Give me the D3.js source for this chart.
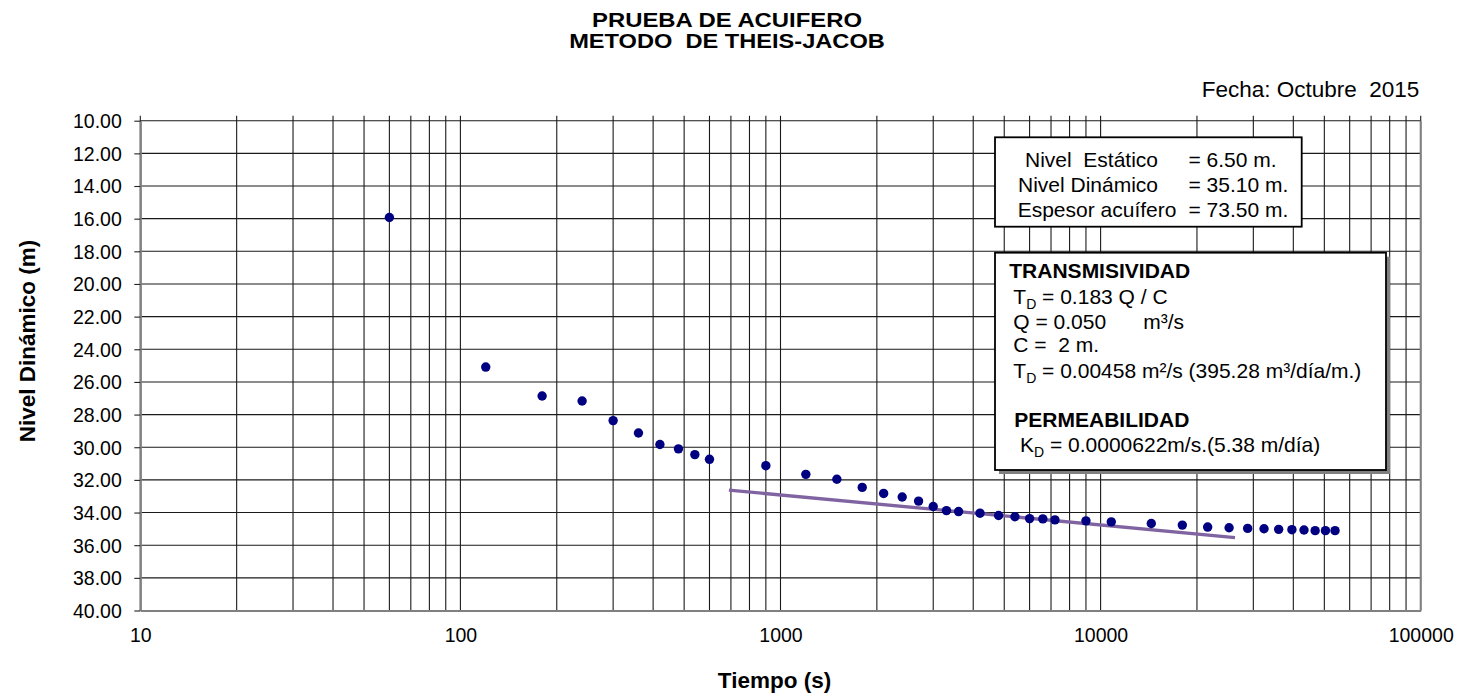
<!DOCTYPE html>
<html>
<head>
<meta charset="utf-8">
<script src="https://cdn.jsdelivr.net/npm/d3@7"></script>
<style>
  html, body { margin: 0; padding: 0; background: #fff; }
  svg { display: block; font-family: "Liberation Sans", Arial, sans-serif; }
  svg text { white-space: pre; }
</style>
</head>
<body>
<svg id="chart" width="1472" height="698"></svg>
<script>
// ---- data ----
const tiempo = [60,120,180,240,300,360,420,480,540,600,900,1200,1500,1800,2100,2400,2700,3000,3300,3600,4200,4800,5400,6000,6600,7200,9000,10800,14400,18000,21600,25200,28800,32400,36000,39600,43200,46800,50400,54000];
const nivel  = [15.93,25.09,26.86,27.17,28.37,29.13,29.83,30.10,30.45,30.74,31.13,31.66,31.96,32.46,32.83,33.05,33.30,33.63,33.88,33.94,34.04,34.18,34.26,34.37,34.39,34.45,34.51,34.57,34.67,34.77,34.89,34.93,34.97,34.99,35.03,35.05,35.07,35.11,35.11,35.11];
const rectaTiempo = [690, 26300];
const rectaNivel  = [32.63, 35.53];
const xTickValues = [10, 100, 1000, 10000, 100000];
const yTickValues = [10,12,14,16,18,20,22,24,26,28,30,32,34,36,38,40];
const titulo = ["PRUEBA DE ACUIFERO", "METODO  DE THEIS-JACOB"];
const fecha = "Fecha: Octubre  2015";
const cuadro1Etiquetas = ["Nivel  Estático", "Nivel Dinámico", "Espesor acuífero"];
const cuadro1Valores = ["= 6.50 m.", "= 35.10 m.", "= 73.50 m."];

// ---- layout ----
const svg = d3.select("#chart");
const L = 140.3, R = 1420.7, T = 120.7, B = 610.5;
const x = d3.scaleLog().domain([10, 100000]).range([L, R]);
const y = d3.scaleLinear().domain([10, 40]).range([T, B]);

// minor grid values for log axis
const xGrid = [];
for (let dec = 10; dec < 100000; dec *= 10) {
  for (let k = 1; k < 10; k++) xGrid.push(dec * k);
}
xGrid.push(100000);

const grid = svg.append("g");
grid.selectAll("line.v").data(xGrid).join("line")
  .attr("x1", d => x(d)).attr("x2", d => x(d))
  .attr("y1", T - 5).attr("y2", B)
  .attr("stroke", "#1a1a1a").attr("stroke-width", 1.1);
grid.selectAll("line.h").data(yTickValues).join("line")
  .attr("x1", L).attr("x2", R)
  .attr("y1", d => y(d)).attr("y2", d => y(d))
  .attr("stroke", "#1a1a1a").attr("stroke-width", 1.1);

// right border
svg.append("line").attr("x1", R).attr("x2", R).attr("y1", T).attr("y2", B)
  .attr("stroke", "#808080").attr("stroke-width", 2);

// y axis
const yAxis = svg.append("g").attr("transform", `translate(${L},0)`)
  .call(d3.axisLeft(y).tickValues(yTickValues).tickSize(6).tickSizeOuter(0)
    .tickFormat(d => d3.format(".2f")(d)));
yAxis.select(".domain").attr("stroke", "#808080").attr("stroke-width", 2.2);
yAxis.selectAll(".tick line").attr("stroke", "#222").attr("stroke-width", 1.1);
yAxis.selectAll(".tick text").attr("font-size", 19.5).attr("fill", "#000")
  .attr("font-family", "Liberation Sans, Arial, sans-serif").attr("x", -18.5).attr("dy", "0.35em");

// x axis
const xAxis = svg.append("g").attr("transform", `translate(0,${B})`)
  .call(d3.axisBottom(x).tickValues(xTickValues).tickSize(0).tickSizeOuter(0)
    .tickFormat(d => String(d)));
xAxis.select(".domain").attr("stroke", "#808080").attr("stroke-width", 2.2);
xAxis.selectAll(".tick text").attr("font-size", 19.5).attr("fill", "#000")
  .attr("font-family", "Liberation Sans, Arial, sans-serif").attr("y", 31).attr("dy", 0);

// fitted line
const recta = rectaTiempo.map((t, i) => [t, rectaNivel[i]]);
svg.append("path").datum(recta)
  .attr("d", d3.line().x(d => x(d[0])).y(d => y(d[1])))
  .attr("fill", "none").attr("stroke", "#8064A2").attr("stroke-width", 3.3);

// points
svg.append("g").selectAll("circle").data(tiempo.map((t, i) => [t, nivel[i]])).join("circle")
  .attr("cx", d => x(d[0])).attr("cy", d => y(d[1])).attr("r", 4.7)
  .attr("fill", "#000080");

// titles
svg.selectAll("text.title").data(titulo).join("text").attr("class", "title")
  .attr("x", 727).attr("y", (d, i) => 26.5 + i * 21.7)
  .attr("text-anchor", "middle").attr("font-weight", "bold").attr("font-size", 20)
  .attr("textLength", (d, i) => i === 0 ? 270 : 315.7).attr("lengthAdjust", "spacingAndGlyphs")
  .text(d => d);

svg.append("text").attr("x", 1419.3).attr("y", 96.7).attr("text-anchor", "end")
  .attr("font-size", 22.5).text(fecha);

// axis titles
svg.append("text").attr("transform", "translate(35,341) rotate(-90)")
  .attr("text-anchor", "middle").attr("font-weight", "bold").attr("font-size", 22.5)
  .text("Nivel Dinámico (m)");
svg.append("text").attr("x", 774.5).attr("y", 688)
  .attr("text-anchor", "middle").attr("font-weight", "bold").attr("font-size", 22.5)
  .text("Tiempo (s)");

// box 1
svg.append("rect").attr("x", 995).attr("y", 137.3).attr("width", 306.7).attr("height", 89.4)
  .attr("fill", "#fff").attr("stroke", "#000").attr("stroke-width", 1.8);
const b1x = [1025, 1018, 1017.7];
svg.selectAll("text.b1l").data(cuadro1Etiquetas).join("text").attr("class", "b1l")
  .attr("x", (d, i) => b1x[i]).attr("y", (d, i) => 166.7 + i * 25)
  .attr("font-size", 21).text(d => d);
svg.selectAll("text.b1v").data(cuadro1Valores).join("text").attr("class", "b1v")
  .attr("x", 1188.5).attr("y", (d, i) => 166.7 + i * 25)
  .attr("font-size", 21).text(d => d);

// box 2 with shadow
svg.append("rect").attr("x", 999).attr("y", 256.7).attr("width", 391).attr("height", 217.3)
  .attr("fill", "#808080");
svg.append("rect").attr("x", 995).attr("y", 252.7).attr("width", 391).attr("height", 217.3)
  .attr("fill", "#fff").attr("stroke", "#000").attr("stroke-width", 1.8);

const b2 = svg.append("g").attr("font-size", 21);
b2.append("text").attr("x", 1009.3).attr("y", 278.3).attr("font-weight", "bold").text("TRANSMISIVIDAD");
function sub(sel, main, s, rest) {
  sel.append("tspan").text(main);
  sel.append("tspan").attr("font-size", 14).attr("dy", 5).text(s);
  sel.append("tspan").attr("dy", -5).text(rest);
}
sub(b2.append("text").attr("x", 1013.3).attr("y", 304), "T", "D", " = 0.183 Q / C");
b2.append("text").attr("x", 1013.3).attr("y", 329).text("Q = 0.050");
b2.append("text").attr("x", 1143.3).attr("y", 329).text("m³/s");
b2.append("text").attr("x", 1013.3).attr("y", 352.3).text("C =  2 m.");
sub(b2.append("text").attr("x", 1013.3).attr("y", 378.3), "T", "D", " = 0.00458 m²/s (395.28 m³/día/m.)");
b2.append("text").attr("x", 1014.3).attr("y", 426.7).attr("font-weight", "bold").text("PERMEABILIDAD");
sub(b2.append("text").attr("x", 1020).attr("y", 451.7), "K", "D", " = 0.0000622m/s.(5.38 m/día)");
</script>
</body>
</html>
